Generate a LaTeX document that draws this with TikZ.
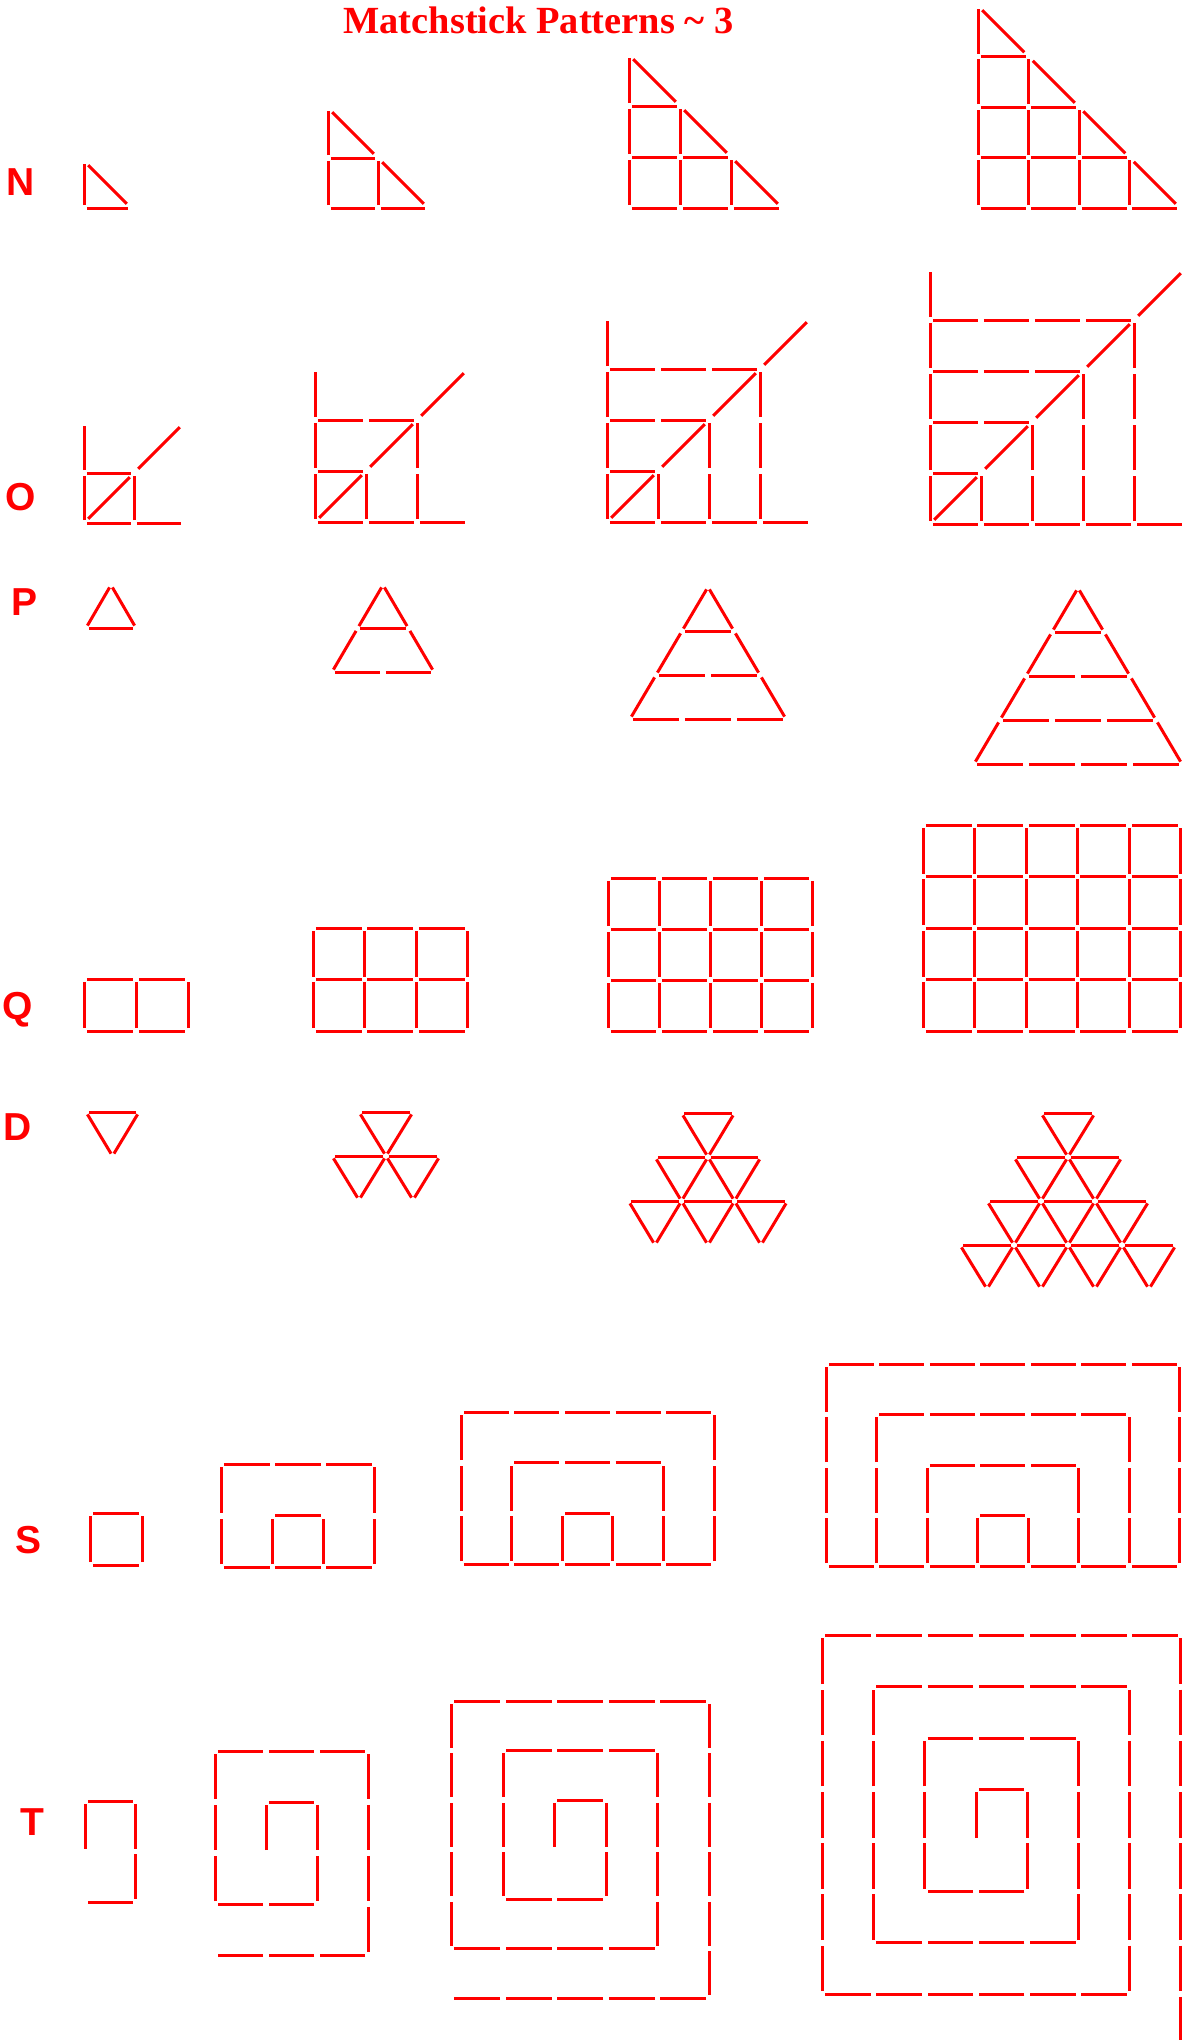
\documentclass[tikz,border=0pt]{standalone}
\usepackage{fontspec}
\newfontfamily\lblfont{Liberation Sans}
\newfontfamily\ttlfont{Liberation Serif}
\definecolor{mred}{RGB}{255,0,0}
\tikzset{
 stk/.style={draw=mred,line width=1.5pt,shorten <=1.4pt,shorten >=1.4pt},
 stkd/.style={draw=mred,line width=1.5pt,shorten <=3pt,shorten >=3pt},
 lbl/.style={text=mred,font=\lblfont\bfseries\fontsize{19.5}{22}\selectfont,inner sep=0pt,anchor=base}
}
\newcommand\stk[4]{\draw[stk] ({#1},{#2}) -- ({#3},{#4});}
\newcommand\stkd[4]{\draw[stkd] ({#1},{#2}) -- ({#3},{#4});}
% N: staircase  #1 n, #2 x0, #3 ybottom, #4 unit
\newcommand\patN[4]{%
\begin{scope}[shift={(#2,#3)},xscale=#4,yscale=-#4]
\pgfmathtruncatemacro\qnm{#1-1}
\foreach \qr in {0,...,\qnm}{
  \pgfmathtruncatemacro\qcm{#1-1-\qr}
  \foreach \qc in {0,...,\qcm}{
    \stk{\qc}{\qr}{\qc}{\qr+1}
    \stk{\qc}{\qr}{\qc+1}{\qr}
  }
  \stkd{\qcm}{\qr+1}{\qcm+1}{\qr}
}
\end{scope}}
% O
\newcommand\patO[4]{%
\begin{scope}[shift={(#2,#3)},xscale=#4,yscale=-#4]
\foreach \qk in {0,...,#1}{
  \stk{0}{\qk}{0}{\qk+1}
  \stk{\qk}{0}{\qk+1}{0}
  \stkd{\qk}{\qk}{\qk+1}{\qk+1}
}
\foreach \qk in {1,...,#1}{
  \pgfmathtruncatemacro\qkm{\qk-1}
  \foreach \qj in {0,...,\qkm}{
    \stk{\qj}{\qk}{\qj+1}{\qk}
    \stk{\qk}{\qj}{\qk}{\qj+1}
  }
}
\end{scope}}
% P: #1 n, #2 apex x, #3 apex y, #4 u, #5 v
\newcommand\patP[5]{%
\begin{scope}[shift={(#2,#3)},xscale=#4,yscale=#5]
\pgfmathtruncatemacro\qnm{#1-1}
\foreach \qk in {0,...,\qnm}{
  \stk{-\qk/2}{\qk}{-\qk/2-0.5}{\qk+1}
  \stk{\qk/2}{\qk}{\qk/2+0.5}{\qk+1}
  \foreach \qj in {0,...,\qk}{
    \stk{-\qk/2-0.5+\qj}{\qk+1}{-\qk/2+0.5+\qj}{\qk+1}
  }
}
\end{scope}}
% Q
\newcommand\patQ[4]{%
\begin{scope}[shift={(#2,#3)},xscale=#4,yscale=-#4]
\pgfmathtruncatemacro\qnp{#1+1}
\pgfmathtruncatemacro\qnm{#1-1}
\foreach \qr in {0,...,#1}{\foreach \qc in {0,...,#1}{\stk{\qc}{\qr}{\qc+1}{\qr}}}
\foreach \qr in {0,...,\qnm}{\foreach \qc in {0,...,\qnp}{\stk{\qc}{\qr}{\qc}{\qr+1}}}
\end{scope}}
% D: #1 n, #2 cx, #3 ytop, #4 u, #5 v
\newcommand\patD[5]{%
\begin{scope}[shift={(#2,#3)},xscale=#4,yscale=#5]
\foreach \qk in {1,...,#1}{
  \pgfmathtruncatemacro\qkm{\qk-1}
  \foreach \qj in {0,...,\qkm}{
    \stk{-\qk/2+\qj}{\qkm}{-\qk/2+\qj+1}{\qkm}
    \stk{-\qk/2+\qj}{\qkm}{-\qk/2+\qj+0.5}{\qkm+1}
    \stk{-\qk/2+\qj+1}{\qkm}{-\qk/2+\qj+0.5}{\qkm+1}
  }
}
\end{scope}}
% S
\newcommand\patS[4]{%
\begin{scope}[shift={(#2,#3)},xscale=#4,yscale=-#4]
\pgfmathtruncatemacro\qbm{2*#1-2}
\foreach \qc in {0,...,\qbm}{\stk{\qc}{0}{\qc+1}{0}}
\foreach \qk in {1,...,#1}{
  \pgfmathtruncatemacro\sLc{#1-\qk}
  \pgfmathtruncatemacro\sRc{#1+\qk-1}
  \pgfmathtruncatemacro\qkm{\qk-1}
  \pgfmathtruncatemacro\sRm{\sRc-1}
  \foreach \qr in {0,...,\qkm}{\stk{\sLc}{\qr}{\sLc}{\qr+1}\stk{\sRc}{\qr}{\sRc}{\qr+1}}
  \foreach \qc in {\sLc,...,\sRm}{\stk{\qc}{\qk}{\qc+1}{\qk}}
}
\end{scope}}
% T: spiral  #1 n, #2 x0, #3 ytop, #4 xu, #5 yu
\newcommand\patT[5]{%
\begin{scope}[shift={(#2,#3)},xscale=#4,yscale=#5]
\pgfmathtruncatemacro\tsx{#1-1}
\xdef\tcx{\tsx}\xdef\tcy{#1}
\pgfmathtruncatemacro\tsegs{4*#1}
\foreach \ti in {1,...,\tsegs}{
  \pgfmathtruncatemacro\tlen{ceil(\ti/2)}
  \ifnum\ti=\tsegs \pgfmathtruncatemacro\tlen{2*#1-1}\fi
  \pgfmathtruncatemacro\tdir{mod(\ti,4)}
  \ifcase\tdir \def\tdx{-1}\def\tdy{0}\or \def\tdx{0}\def\tdy{-1}\or \def\tdx{1}\def\tdy{0}\or \def\tdx{0}\def\tdy{1}\fi
  \foreach \ts in {1,...,\tlen}{
    \pgfmathtruncatemacro\tnx{\tcx+\tdx}
    \pgfmathtruncatemacro\tny{\tcy+\tdy}
    \stk{\tcx}{\tcy}{\tnx}{\tny}
    \xdef\tcx{\tnx}\xdef\tcy{\tny}
  }
}
\end{scope}}

\begin{document}
\begin{tikzpicture}[x=0.5pt,y=-0.5pt]
\useasboundingbox (0,0) rectangle (1188,2040);
\clip (0,0) rectangle (1188,2040);
\node[anchor=base,text=mred,font=\ttlfont\bfseries\fontsize{19.2}{22}\selectfont,inner sep=0pt] (title) at (538.5,33) {Matchstick Patterns \textasciitilde{} 3};
\node[lbl] (labN) at (21,195) {N};
\node[lbl] (labO) at (21,510) {O};
\node[lbl] (labP) at (25,615) {P};
\node[lbl] (labQ) at (18,1019) {Q};
\node[lbl] (labD) at (18,1140) {D};
\node[lbl] (labS) at (28.5,1553) {S};
\node[lbl] (labT) at (32.5,1835) {T};
% N
\patN{1}{84}{208}{47}
\patN{2}{328}{208}{50}
\patN{3}{629}{208}{51}
\patN{4}{978}{208}{50.5}
% O
\patO{1}{84}{523}{50}
\patO{2}{315}{522}{51}
\patO{3}{607}{522}{51}
\patO{4}{930}{524}{51}
% P
\patP{1}{111}{585}{50}{43}
\patP{2}{383}{585}{51}{43.5}
\patP{3}{708}{587}{52}{44}
\patP{4}{1078}{588}{52}{44}
% Q
\patQ{1}{84}{1031}{52}
\patQ{2}{313}{1031}{51.5}
\patQ{3}{608}{1031}{51}
\patQ{4}{923}{1031}{51.5}
% D
\patD{1}{112.5}{1112}{53}{44}
\patD{2}{386}{1112}{54}{44}
\patD{3}{708}{1113}{53}{44}
\patD{4}{1068}{1113}{54}{44}
% S
\patS{1}{90}{1565}{52}
\patS{2}{221}{1567}{51.3}
\patS{3}{461}{1564}{50.6}
\patS{4}{826}{1566}{50.5}
% T
\patT{1}{85}{1801}{50.5}{50.5}
\patT{2}{215}{1751}{51}{51}
\patT{3}{451.5}{1701}{51.5}{49.5}
\patT{4}{822.4}{1635.6}{51.2}{51.2}
\end{tikzpicture}
\end{document}
